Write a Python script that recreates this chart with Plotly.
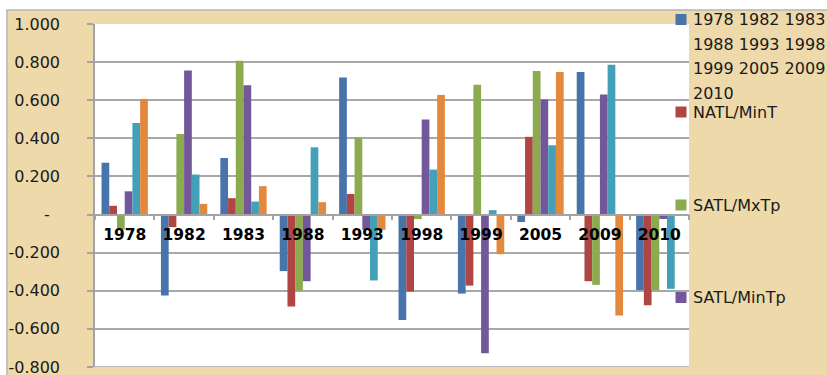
import plotly.graph_objects as go

years = ["1978", "1982", "1983", "1988", "1993", "1998", "1999", "2005", "2009", "2010"]

series_names = [
    "1978 1982 1983 1988 1993 1998 1999 2005 2009 2010",
    "NATL/MinT",
    "SATL/MxTp",
    "SATL/MinTp",
    "Series 5",
    "Series 6",
]

blue_vals = [0.272, -0.425, 0.297, -0.297, 0.719, -0.553, -0.415, -0.039, 0.749, -0.397]
red_vals = [0.046, -0.066, 0.086, -0.483, 0.108, -0.404, -0.373, 0.408, -0.350, -0.476]
green_vals = [-0.079, 0.423, 0.807, -0.399, 0.404, -0.024, 0.681, 0.754, -0.369, -0.397]
purple_vals = [0.122, 0.756, 0.679, -0.350, -0.080, 0.499, -0.728, 0.604, 0.630, -0.023]
cyan_vals = [0.481, 0.210, 0.068, 0.353, -0.346, 0.236, 0.023, 0.364, 0.787, -0.390]
orange_vals = [0.607, 0.056, 0.149, 0.065, -0.080, 0.628, -0.208, 0.749, -0.530, 0.0]

all_vals = [blue_vals, red_vals, green_vals, purple_vals, cyan_vals, orange_vals]
colors = ["#4674AB", "#B04643", "#8CAA4E", "#72589A", "#43A0B8", "#E4883D"]

y_tickvals = [1.0, 0.8, 0.6, 0.4, 0.2, 0.0, -0.2, -0.4, -0.6, -0.8]
y_ticktext = ["1.000", "0.800", "0.600", "0.400", "0.200", "-\u00a0\u00a0",
              "-0.200", "-0.400", "-0.600", "-0.800"]

# legend entries visible in the picture (cyan/orange entries are cut off)
legend_centers_px = [19.5, 112, 205, 297.5]

W, H = 827, 375
L, R, T, B = 95, 138, 24, 8
pw, ph = W - L - R, H - T - B

def px_x(p):
    return (p - L) / pw

def px_y(p):
    return (H - B - p) / ph

fig = go.Figure()
for name, vals, col in zip(series_names, all_vals, colors):
    fig.add_trace(go.Bar(
        x=years, y=vals, name=name,
        marker=dict(color=col, line=dict(width=0)),
        showlegend=False,
    ))

font_fam = "DejaVu Sans"
leg_font = dict(family=font_fam, size=16, color="#1a1a1a")
grid_col = "#a8a8a8"

shapes = [
    dict(type="rect", xref="paper", yref="paper", layer="below",
         x0=px_x(7), x1=px_x(840), y0=px_y(390), y1=px_y(10),
         fillcolor="#EDD9AA", line=dict(color="#b5b5b5", width=1.5)),
    dict(type="rect", xref="paper", yref="paper", layer="below",
         x0=0, x1=1, y0=0, y1=1,
         fillcolor="white", line=dict(width=0)),
    # bottom edge gridline of the plot area (value axis minimum)
    dict(type="line", xref="paper", yref="y", layer="below",
         x0=px_x(88), x1=1, y0=y_tickvals[-1], y1=y_tickvals[-1],
         line=dict(color=grid_col, width=1.5)),
]
annotations = []
line_step = 24.7
for i, cy in enumerate(legend_centers_px):
    shapes.append(dict(type="rect", xref="paper", yref="paper", layer="above",
                       x0=px_x(675.5), x1=px_x(686.5),
                       y0=px_y(cy + 5.5), y1=px_y(cy - 5.5),
                       fillcolor=colors[i], line=dict(width=0)))
    words = series_names[i].split(" ")
    lines = [" ".join(words[k:k + 3]) for k in range(0, len(words), 3)]
    for j, ln in enumerate(lines):
        annotations.append(dict(xref="paper", yref="paper",
                                x=px_x(691), y=px_y(cy + j * line_step),
                                xanchor="left", yanchor="middle",
                                text=ln, showarrow=False, font=leg_font))

fig.update_layout(
    width=W, height=H,
    margin=dict(l=L, r=R, t=T, b=B, autoexpand=False),
    paper_bgcolor="white",
    plot_bgcolor="rgba(0,0,0,0)",
    barmode="group",
    bargap=0.22,
    bargroupgap=0.0,
    showlegend=False,
    font=dict(family=font_fam, color="#1a1a1a"),
    xaxis=dict(
        type="category",
        anchor="free",
        position=0.8 / 1.8,
        automargin=False,
        showline=True, linecolor="#a3a3a3", linewidth=1.5,
        ticks="outside", ticklen=5, tickcolor="#a3a3a3", tickwidth=1.5,
        tickson="boundaries",
        showgrid=False,
        tickfont=dict(family=font_fam, size=15.5, color="black", weight="bold"),
        ticklabelstandoff=6,
    ),
    yaxis=dict(
        range=[-0.8004, 1.0004],
        automargin=False,
        tickvals=y_tickvals, ticktext=y_ticktext,
        showgrid=True, gridcolor=grid_col, gridwidth=1.5,
        zeroline=False,
        showline=True, linecolor="#a3a3a3", linewidth=1.5,
        ticks="outside", ticklen=6, tickcolor="#a3a3a3", tickwidth=1.5,
        tickfont=dict(family=font_fam, size=16, color="#1a1a1a"),
        ticklabelstandoff=24,
        ticklabeloverflow="allow",
    ),
    shapes=shapes,
    annotations=annotations,
)

fig.write_html("out.html")
